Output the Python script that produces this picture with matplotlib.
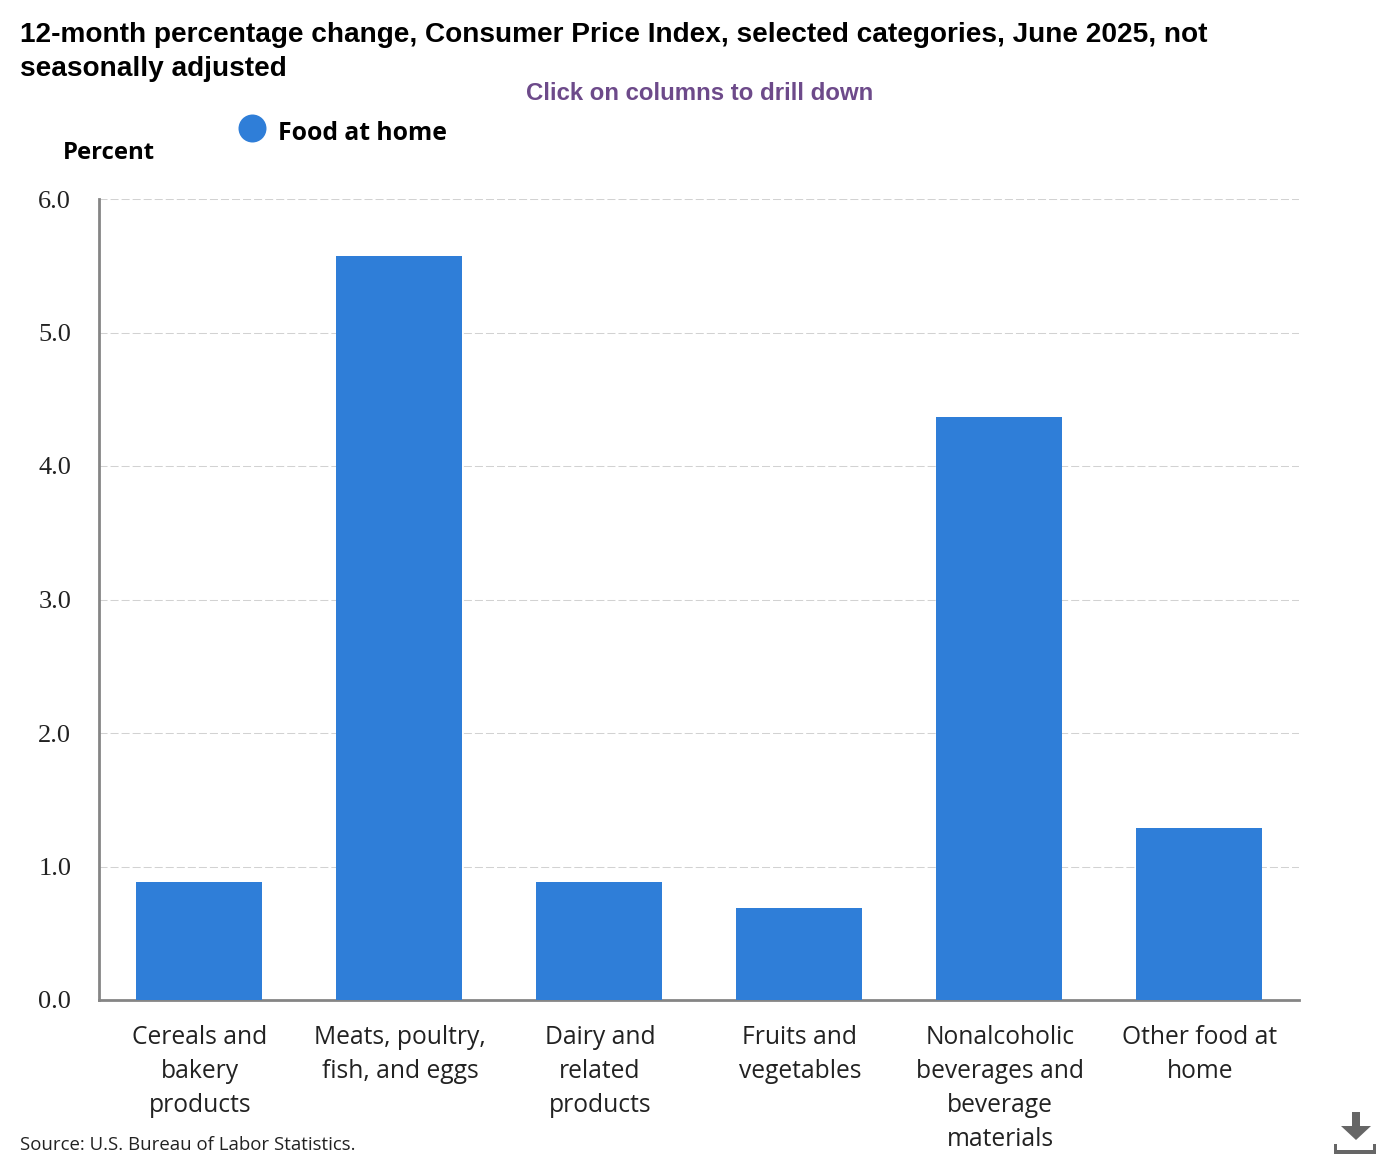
import matplotlib
matplotlib.use('Agg')
import matplotlib.pyplot as plt
from matplotlib.patches import Polygon, Rectangle
from matplotlib.transforms import ScaledTranslation

categories = ['Cereals and\nbakery\nproducts', 'Meats, poultry,\nfish, and eggs', 'Dairy and\nrelated\nproducts',
              'Fruits and\nvegetables', 'Nonalcoholic\nbeverages and\nbeverage\nmaterials', 'Other food at\nhome']
values = [0.885, 5.57, 0.885, 0.69, 4.37, 1.29]
y_ticks = [0, 1, 2, 3, 4, 5, 6]

W, H = 1400, 1160
fig = plt.figure(figsize=(W / 100, H / 100), dpi=100)
ax = fig.add_axes([99 / W, 1 - 1000 / H, 1200 / W, 801 / H])

ax.bar(range(6), values, width=0.63, color='#2f7ed8', zorder=3)
ax.set_xlim(-0.5, 5.5)
ax.set_ylim(0, 6)
ax.set_yticks(y_ticks)
ax.set_yticklabels([f'{t:.1f}' for t in y_ticks], family='Liberation Serif', fontsize=19, color='#222222')
ax.set_xticks(range(6))
ax.set_xticklabels(categories, family='Open Sans', fontsize=17.7, color='#222222', linespacing=1.47)
ax.tick_params(axis='both', length=0)
ax.tick_params(axis='x', pad=18)
ax.tick_params(axis='y', pad=20)
ax.grid(axis='y', color='#d2d2d2', linestyle=(0, (7.7, 2.9)), linewidth=0.75, zorder=0)
for s in ['top', 'right']:
    ax.spines[s].set_visible(False)
for s in ['left', 'bottom']:
    ax.spines[s].set_color('#858585')
    ax.spines[s].set_linewidth(2)

# labels sit a pixel right of the bar centres
shift = ScaledTranslation(1 / 100, 0, fig.dpi_scale_trans)
for lab in ax.get_xticklabels():
    lab.set_transform(lab.get_transform() + shift)


def px_text(x, y, s, **kw):
    fig.text(x / W, 1 - y / H, s, va='center', **kw)


px_text(20, 35, '12-month percentage change, Consumer Price Index, selected categories, June 2025, not',
        family='Liberation Sans', fontsize=20.13, fontweight='bold', color='black')
px_text(20, 69, 'seasonally adjusted', family='Liberation Sans', fontsize=20.13, fontweight='bold', color='black')
px_text(700, 94, 'Click on columns to drill down', family='Liberation Sans', fontsize=17.25, fontweight='bold',
        color='#6d4a8a', ha='center')
px_text(278, 133, 'Food at home', family='Open Sans', fontsize=17.8, fontweight='bold', color='black')
px_text(63, 153, 'Percent', family='Open Sans', fontsize=17.2, fontweight='bold', color='black')
px_text(20, 1145, 'Source: U.S. Bureau of Labor Statistics.', family='Open Sans', fontsize=13.45, color='#222222')

# legend dot
overlay = fig.add_axes([0, 0, 1, 1], facecolor='none')
overlay.set_xlim(0, W)
overlay.set_ylim(H, 0)
overlay.axis('off')
overlay.scatter([252], [128], s=406, color='#2f7ed8', linewidths=0)

# download icon
overlay.add_patch(Polygon([[1352, 1112], [1360, 1112], [1360, 1126], [1371, 1126], [1356, 1140], [1341, 1126], [1352, 1126]],
                          closed=True, color='#666666', lw=0))
overlay.add_patch(Rectangle((1334, 1150), 42, 4, color='#666666', lw=0))
overlay.add_patch(Rectangle((1334, 1144), 3, 8, color='#666666', lw=0))
overlay.add_patch(Rectangle((1373, 1144), 3, 8, color='#666666', lw=0))

fig.savefig('out.png', dpi=100, facecolor='white')
